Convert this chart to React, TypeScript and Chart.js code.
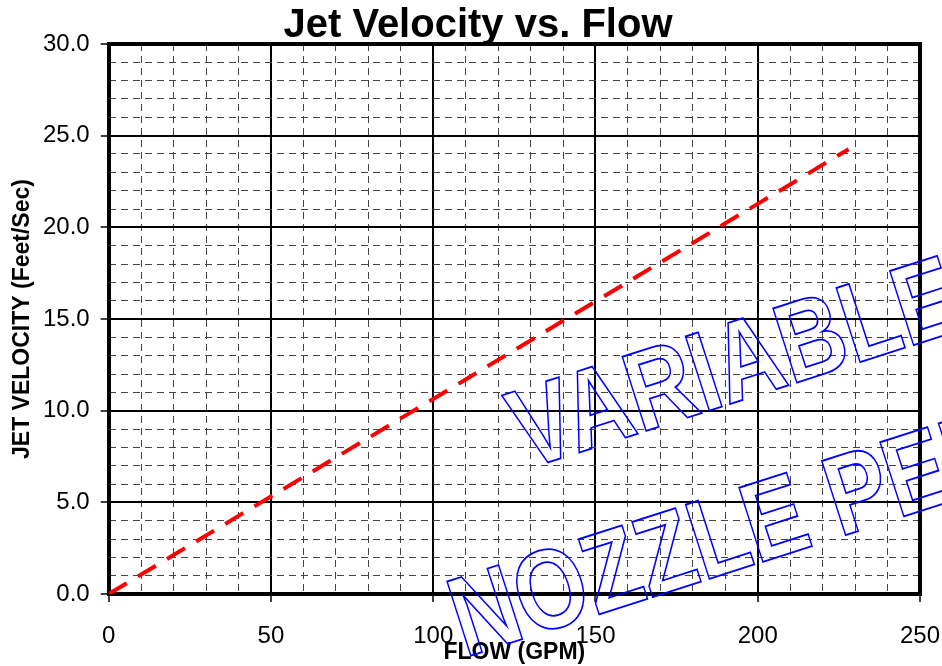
import { useEffect, useRef } from 'react';
import { Chart, registerables } from 'chart.js';

Chart.register(...registerables);

const flowGpm = [0, 10, 20, 30, 40, 50, 60, 70, 80, 90, 100, 110, 120, 130, 140, 150, 160, 170, 180, 190, 200, 210, 220, 228];
const jetVelocity = [0, 1.06, 2.13, 3.19, 4.26, 5.32, 6.38, 7.45, 8.51, 9.58, 10.64, 11.7, 12.77, 13.83, 14.9, 15.96, 17.02, 18.09, 19.15, 20.22, 21.28, 22.34, 23.41, 24.26];
const xMajorTicks = [0, 50, 100, 150, 200, 250];
const yMajorTicks = [0, 5, 10, 15, 20, 25, 30];
const chartTitle = 'Jet Velocity vs. Flow';
const xAxisTitle = 'FLOW (GPM)';
const yAxisTitle = 'JET VELOCITY (Feet/Sec)';
const watermarkLines = ['VARIABLE', 'NOZZLE PERFORMANCE'];

const FONT = '"Liberation Sans", Arial, Helvetica, sans-serif';

export default function App() {
  const ref = useRef<HTMLCanvasElement>(null);

  useEffect(() => {
    document.body.style.margin = '0';
    const canvas = ref.current!;
    const near = (list: number[], v: number) => list.some((m) => Math.abs(m - v) < 1e-6);
    const isMajorX = (v: number) => near(xMajorTicks, v);
    const isMajorY = (v: number) => near(yMajorTicks, v);

    const framePlugin = {
      id: 'frame',
      beforeDatasetsDraw(chart: any) {
        const { ctx, chartArea: a } = chart;
        ctx.save();
        ctx.strokeStyle = '#000';
        ctx.lineWidth = 4;
        ctx.setLineDash([]);
        const l = Math.round(a.left), t = Math.round(a.top), r = Math.round(a.right), b = Math.round(a.bottom);
        ctx.strokeRect(l, t, r - l, b - t);
        ctx.restore();
      },
    };

    const titlePlugin = {
      id: 'mainTitle',
      afterDraw(chart: any) {
        const ctx = chart.ctx;
        ctx.save();
        ctx.font = `bold 40px ${FONT}`;
        ctx.fillStyle = '#000';
        ctx.textAlign = 'center';
        ctx.textBaseline = 'alphabetic';
        ctx.fillText(chartTitle, 478, 37);
        ctx.restore();
      },
    };

    const watermarkPlugin = {
      id: 'watermark',
      afterDraw(chart: any) {
        const ctx = chart.ctx;
        const spots = [
          [525, 469.8],
          [465, 657.4],
        ];
        ctx.save();
        ctx.font = `bold 92px ${FONT}`;
        ctx.strokeStyle = '#0000ff';
        ctx.lineWidth = 1.5;
        ctx.textAlign = 'left';
        ctx.textBaseline = 'alphabetic';
        watermarkLines.forEach((text, i) => {
          ctx.save();
          ctx.translate(spots[i][0], spots[i][1]);
          ctx.rotate((-17.8 * Math.PI) / 180);
          ctx.scale(1, 1.23);
          ctx.strokeText(text, 0, 0);
          ctx.restore();
        });
        ctx.restore();
      },
    };

    const chart = new Chart(canvas, {
      type: 'line',
      data: {
        datasets: [
          {
            data: flowGpm.map((x, i) => ({ x, y: jetVelocity[i] })),
            borderColor: '#ff0000',
            borderWidth: 4,
            borderDash: [21, 13],
            pointRadius: 0,
            tension: 0,
            fill: false,
          },
        ],
      },
      options: {
        responsive: false,
        animation: false,
        devicePixelRatio: 1,
        layout: { padding: { top: 44, right: 0, left: 0, bottom: 0 } },
        plugins: {
          legend: { display: false },
          title: { display: false },
          tooltip: { enabled: false },
        },
        scales: {
          x: {
            type: 'linear',
            min: 0,
            max: 250,
            afterFit(scale: any) {
              scale.height = 72;
              scale.paddingRight = 22;
              scale.paddingLeft = 0;
            },
            ticks: {
              stepSize: 10,
              autoSkip: false,
              maxTicksLimit: 100,
              maxRotation: 0,
              padding: 20,
              color: '#000',
              font: { family: FONT, size: 24 },
              callback: (v: any) => (isMajorX(Number(v)) ? String(Math.round(Number(v))) : ''),
            },
            grid: {
              color: (c: any) => (isMajorX(c.tick.value) ? '#000' : '#444'),
              lineWidth: (c: any) => (isMajorX(c.tick.value) ? 2 : 1),
              tickColor: (c: any) => (isMajorX(c.tick.value) ? '#000' : 'rgba(0,0,0,0)'),
              tickLength: 8,
              tickWidth: 1.5,
              tickBorderDash: [],
            },
            border: {
              display: false,
              dash: (c: any) => (isMajorX(c.tick.value) ? [] : [7, 5]),
            },
            title: {
              display: true,
              text: xAxisTitle,
              color: '#000',
              font: { family: FONT, size: 23, weight: 'bold' },
              padding: { top: 0, bottom: 0 },
            },
          },
          y: {
            type: 'linear',
            min: 0,
            max: 30,
            afterFit(scale: any) {
              scale.width = 108.7;
            },
            ticks: {
              stepSize: 1,
              autoSkip: false,
              maxTicksLimit: 100,
              padding: 11,
              color: '#000',
              font: { family: FONT, size: 24 },
              callback: (v: any) => (isMajorY(Number(v)) ? Number(v).toFixed(1) : ''),
            },
            grid: {
              color: (c: any) => (isMajorY(c.tick.value) ? '#000' : '#444'),
              lineWidth: (c: any) => (isMajorY(c.tick.value) ? 2 : 1),
              tickColor: (c: any) => (isMajorY(c.tick.value) ? '#000' : 'rgba(0,0,0,0)'),
              tickLength: 8,
              tickWidth: 1.5,
              tickBorderDash: [],
            },
            border: {
              display: false,
              dash: (c: any) => (isMajorY(c.tick.value) ? [] : [7, 5]),
            },
            title: {
              display: true,
              text: yAxisTitle,
              color: '#000',
              font: { family: FONT, size: 23, weight: 'bold' },
              padding: { top: 9, bottom: 0 },
            },
          },
        },
      },
      plugins: [framePlugin, titlePlugin, watermarkPlugin],
    } as any);

    return () => chart.destroy();
  }, []);

  return (
    <div style={{ width: 942, height: 666 }}>
      <canvas ref={ref} width={942} height={666} style={{ display: 'block' }} />
    </div>
  );
}
